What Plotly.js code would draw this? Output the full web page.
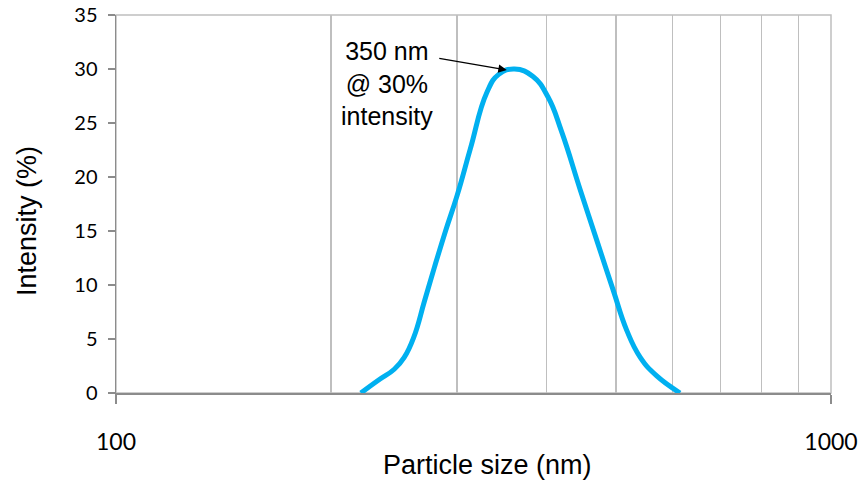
<!DOCTYPE html>
<html>
<head>
<meta charset="utf-8">
<script src="https://cdn.plot.ly/plotly-3.0.1.min.js"></script>
<style>html,body{margin:0;padding:0;background:#fff;}#chart{width:862px;height:483px;}</style>
</head>
<body>
<div id="chart"></div>
<script>
// Particle size distribution
const sizesNm = [220, 233, 245, 253, 261, 270, 279, 289, 300, 313, 330, 343, 361, 383, 402, 420, 446, 470, 496, 518, 541, 570, 615];
const intensityPct = [0, 1.2, 2.2, 3.3, 5.2, 8.5, 11.7, 15.0, 18.3, 22.6, 27.8, 29.5, 30.0, 29.3, 27.4, 24.2, 18.8, 14.2, 9.5, 5.8, 3.3, 1.6, 0];

const gridVals = [200, 300, 400, 500, 600, 700, 800, 900, 1000];
const majorTickVals = [100, 1000];
const majorTickText = ['100', '1000'];
const yTickVals = [0, 5, 10, 15, 20, 25, 30, 35];

const peakSize = 352;
const peakIntensity = 29.9;
const peakLabel = '350 nm<br>@ 30%<br>intensity';

const trace = {
  x: sizesNm,
  y: intensityPct,
  type: 'scatter',
  mode: 'lines',
  line: {color: '#00B0F0', width: 5, shape: 'spline', smoothing: 1.3},
  xaxis: 'x',
  yaxis: 'y',
  hoverinfo: 'skip',
  showlegend: false
};

// invisible copy so the overlaid tick/label axis is drawn
const axisTrace = {
  x: sizesNm,
  y: intensityPct,
  type: 'scatter',
  mode: 'lines',
  line: {color: 'rgba(0,0,0,0)', width: 0},
  xaxis: 'x2',
  yaxis: 'y',
  hoverinfo: 'skip',
  showlegend: false
};

const layout = {
  width: 862,
  height: 483,
  margin: {l: 116, r: 31, t: 15, b: 90},
  paper_bgcolor: '#ffffff',
  plot_bgcolor: '#ffffff',
  showlegend: false,
  xaxis: {
    type: 'log',
    range: [2, 3],
    tickvals: gridVals,
    showticklabels: false,
    ticks: '',
    showgrid: true,
    gridcolor: '#bfbfbf',
    gridwidth: 1.5,
    showline: false,
    zeroline: false,
    fixedrange: true
  },
  xaxis2: {
    type: 'log',
    range: [2, 3],
    overlaying: 'x',
    anchor: 'y',
    side: 'bottom',
    tickvals: majorTickVals,
    ticktext: majorTickText,
    ticks: 'outside',
    ticklen: 9,
    tickwidth: 1.5,
    tickcolor: '#8c8c8c',
    ticklabelstandoff: 18,
    tickfont: {family: 'Liberation Sans Narrow, Arial Narrow, Lato, sans-serif', size: 23, color: '#000'},
    showgrid: false,
    showline: true,
    linecolor: '#8c8c8c',
    linewidth: 2,
    zeroline: false,
    fixedrange: true
  },
  yaxis: {
    range: [0, 35],
    tickvals: yTickVals,
    ticks: 'outside',
    ticklen: 7,
    tickwidth: 1.5,
    tickcolor: '#8c8c8c',
    ticklabelstandoff: 6,
    tickfont: {family: 'Lato, Carlito, sans-serif', size: 20, color: '#000'},
    showgrid: false,
    showline: true,
    linecolor: '#8c8c8c',
    linewidth: 1.5,
    zeroline: false,
    fixedrange: true
  },
  shapes: [{
    type: 'rect', xref: 'paper', yref: 'paper', x0: 0, x1: 1, y0: 0, y1: 1,
    line: {color: '#bfbfbf', width: 1.5}, layer: 'below'
  }],
  annotations: [
    {
      xref: 'x', yref: 'y',
      x: Math.log10(peakSize), y: peakIntensity,
      text: '', showarrow: true,
      axref: 'pixel', ayref: 'pixel', ax: -69, ay: -12,
      arrowhead: 2, arrowsize: 1.3, arrowwidth: 1.3, arrowcolor: '#000',
      standoff: 0, startstandoff: 0
    },
    {
      xref: 'paper', yref: 'paper', x: 0.379, y: 0.818,
      xanchor: 'center', yanchor: 'middle',
      text: peakLabel, showarrow: false, align: 'center',
      font: {family: 'Liberation Sans, Arial, sans-serif', size: 25, color: '#000'}
    },
    {
      xref: 'paper', yref: 'paper', x: -0.1245, y: 0.455,
      xanchor: 'center', yanchor: 'middle', textangle: -90,
      text: 'Intensity (%)', showarrow: false,
      font: {family: 'Liberation Sans, Arial, sans-serif', size: 27, color: '#000'}
    },
    {
      xref: 'paper', yref: 'paper', x: 0.52, y: -0.19,
      xanchor: 'center', yanchor: 'middle',
      text: 'Particle size (nm)', showarrow: false,
      font: {family: 'Liberation Sans, Arial, sans-serif', size: 27, color: '#000'}
    }
  ]
};

Plotly.newPlot('chart', [trace, axisTrace], layout, {staticPlot: true, displayModeBar: false});
</script>
</body>
</html>
